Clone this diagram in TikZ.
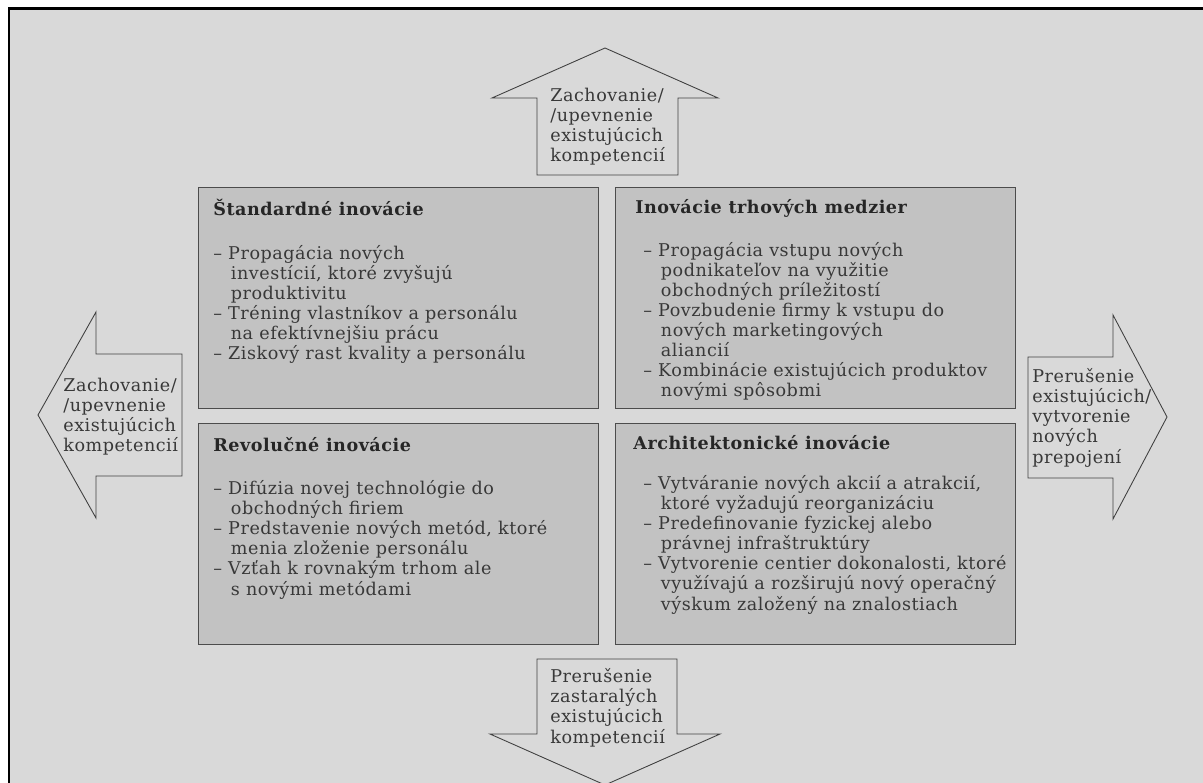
\documentclass[tikz,border=0pt]{standalone}
\usepackage{fontspec}
\setmainfont{DejaVu Serif}
\newfontfamily\quadfont[LetterSpace=3]{DejaVu Serif}
\usepackage{xcolor}
\usetikzlibrary{positioning}
\newcommand{\indl}{\hspace*{10pt}}

\begin{document}
\begin{tikzpicture}[x=0.02cm, y=-0.02cm,
    quad/.style={draw=black!70, line width=0.6pt, fill=quadFill, rectangle,
      minimum width=8cm, minimum height=4.42cm, inner sep=0pt, anchor=north west},
    quadtitle/.style={anchor=base west, inner sep=0pt, text=black!85,
      font=\quadfont\fontsize{10}{11.4}\selectfont\bfseries},
    quadlist/.style={anchor=base west, align=left, inner sep=0pt, text=inkGray,
      font=\quadfont\fontsize{10}{11.4}\selectfont},
    arrowtext/.style={anchor=base west, align=left, inner sep=0pt, text=inkGray,
      font=\quadfont\fontsize{10}{11.4}\selectfont},
    bigarrow/.style={draw=black!75, line width=0.5pt}]
                \colorlet{paperGray}{black!15}
                \colorlet{quadFill}{black!24}
                \colorlet{inkGray}{black!78}
                \useasboundingbox (0,0) rectangle (1203,783);
                \fill[white] (0,0) rectangle (1203,783);
                \fill[paperGray] (9,9) rectangle (1203,783);
                \draw[line width=1.7pt] (9,783) -- (9,9) -- (1203,9);
                \node[quad] (std) at (198,187) {};
                \node[quad] (trh) at (615,187) {};
                \node[quad] (rev) at (198,423) {};
                \node[quad] (arch) at (615,423) {};
                \node[quadtitle] (stdT) at (213,216) {Štandardné inovácie};
                \node[quadlist] (stdL) at (213,360) {– Propagácia nových\\
                  \indl investícií, ktoré zvyšujú\\
                  \indl produktivitu\\
                  – Tréning vlastníkov a personálu\\
                  \indl na efektívnejšiu prácu\\
                  – Ziskový rast kvality a personálu};
                \node[quadtitle] (trhT) at (635,214) {Inovácie trhových medzier};
                \node[quadlist] (trhL) at (643,397) {– Propagácia vstupu nových\\
                  \indl podnikateľov na využitie\\
                  \indl obchodných príležitostí\\
                  – Povzbudenie firmy k vstupu do\\
                  \indl nových marketingových\\
                  \indl aliancií\\
                  – Kombinácie existujúcich produktov\\
                  \indl novými spôsobmi};
                \node[quadtitle] (revT) at (213,452) {Revolučné inovácie};
                \node[quadlist] (revL) at (213,595) {– Difúzia novej technológie do\\
                  \indl obchodných firiem\\
                  – Predstavenie nových metód, ktoré\\
                  \indl menia zloženie personálu\\
                  – Vzťah k rovnakým trhom ale\\
                  \indl s novými metódami};
                \node[quadtitle] (archT) at (633,450) {Architektonické inovácie};
                \node[quadlist] (archL) at (643,610) {– Vytváranie nových akcií a atrakcií,\\
                  \indl ktoré vyžadujú reorganizáciu\\
                  – Predefinovanie fyzickej alebo\\
                  \indl právnej infraštruktúry\\
                  – Vytvorenie centier dokonalosti, ktoré\\
                  \indl využívajú a rozširujú nový operačný\\
                  \indl výskum založený na znalostiach};
                \draw[bigarrow] (537,175) -- (537,98) -- (492,98) -- (605,48)
                  -- (718,98) -- (678,98) -- (678,175) -- cycle;
                \draw[bigarrow] (182,354) -- (96,354) -- (96,312) -- (38,415)
                  -- (96,518) -- (96,476) -- (182,476) -- cycle;
                \draw[bigarrow] (1028,357) -- (1113,357) -- (1113,315) -- (1167,417)
                  -- (1113,519) -- (1113,478) -- (1028,478) -- cycle;
                \draw[bigarrow] (537,659) -- (537,734) -- (490,734) -- (605,785)
                  -- (720,734) -- (677,734) -- (677,659) -- cycle;
                \node[arrowtext] (hore) at (550,162) {Zachovanie/\\/upevnenie\\existujúcich\\kompetencií};
                \node[arrowtext] (vlavo) at (63,452) {Zachovanie/\\/upevnenie\\existujúcich\\kompetencií};
                \node[arrowtext] (vpravo) at (1032,463) {Prerušenie\\existujúcich/\\vytvorenie\\nových\\prepojení};
                \node[arrowtext] (dole) at (550,743) {Prerušenie\\zastaralých\\existujúcich\\kompetencií};
              \end{tikzpicture}
\end{document}
